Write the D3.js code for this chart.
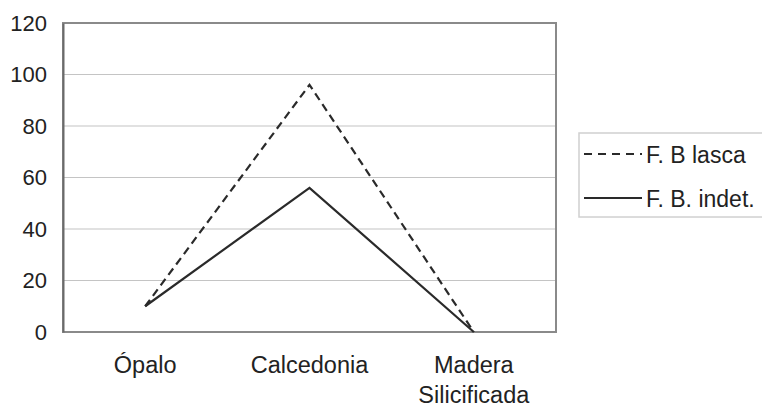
<!DOCTYPE html>
<html><head><meta charset="utf-8">
<script src="https://cdn.jsdelivr.net/npm/d3@7"></script>
<style>body{margin:0;background:#fff}svg{display:block;font-family:"Liberation Sans",Arial,sans-serif}</style>
</head><body><svg id="c" width="762" height="408"></svg>
<script>
const categories = ["Ópalo", "Calcedonia", "Madera\nSilicificada"];
const seriesNames = ["F. B lasca", "F. B. indet."];
const lascaValues = [10, 96, 0];
const indetValues = [10, 56, 0];
const yTicks = [0, 20, 40, 60, 80, 100, 120];

const svg = d3.select("#c");
const m = {l: 63, r: 556, t: 23, b: 332};
const x = d3.scaleBand().domain(categories).range([m.l, m.r]);
const y = d3.scaleLinear().domain([0, 120]).range([m.b, m.t]);

// gridlines
svg.append("g").selectAll("line").data(yTicks.filter(d => d > 0 && d < 120)).join("line")
  .attr("x1", m.l).attr("x2", m.r).attr("y1", d => y(d)).attr("y2", d => y(d))
  .attr("stroke", "#c4c4c4").attr("stroke-width", 1.2);

// plot border
svg.append("rect").attr("x", m.l).attr("y", m.t).attr("width", m.r - m.l).attr("height", m.b - m.t)
  .attr("fill", "none").attr("stroke", "#8a8a8a").attr("stroke-width", 2);

// y axis
const ya = d3.axisLeft(y).tickValues(yTicks).tickSize(0).tickPadding(16);
const yg = svg.append("g").attr("transform", `translate(${m.l},0)`).call(ya);
yg.select(".domain").attr("stroke", "#6a6a6a").attr("stroke-width", 2);
yg.selectAll("text").attr("font-size", 22).attr("fill", "#222").attr("font-family", "Liberation Sans, Arial, sans-serif");

// x labels
const xl = svg.append("g").selectAll("text").data(categories).join("text")
  .attr("x", d => x(d) + x.bandwidth() / 2).attr("y", 373)
  .attr("text-anchor", "middle").attr("font-size", 23.5).attr("fill", "#222");
xl.each(function(d) {
  const t = d3.select(this);
  d.split("\n").forEach((s, i) => t.append("tspan").attr("x", x(d) + x.bandwidth() / 2).attr("dy", i ? 30 : 0).text(s));
});

const line = d3.line().x((d, i) => x(categories[i]) + x.bandwidth() / 2).y(d => y(d));
svg.append("path").datum(lascaValues).attr("d", line).attr("fill", "none")
  .attr("stroke", "#2a2a2a").attr("stroke-width", 2.2).attr("stroke-dasharray", "8,5");
svg.append("path").datum(indetValues).attr("d", line).attr("fill", "none")
  .attr("stroke", "#2a2a2a").attr("stroke-width", 2.2);

// legend
const lg = svg.append("g");
lg.append("rect").attr("x", 579).attr("y", 133).attr("width", 190).attr("height", 84)
  .attr("fill", "#fff").attr("stroke", "#d0d0d0").attr("stroke-width", 1.5);
const dashes = ["8,6", null];
seriesNames.forEach((n, i) => {
  const yy = 154 + i * 44;
  lg.append("line").attr("x1", 584).attr("x2", 642).attr("y1", yy).attr("y2", yy)
    .attr("stroke", "#2a2a2a").attr("stroke-width", 2).attr("stroke-dasharray", dashes[i]);
  lg.append("text").attr("x", 646).attr("y", yy + 9).attr("font-size", 23).attr("fill", "#222").text(n);
});
</script></body></html>
